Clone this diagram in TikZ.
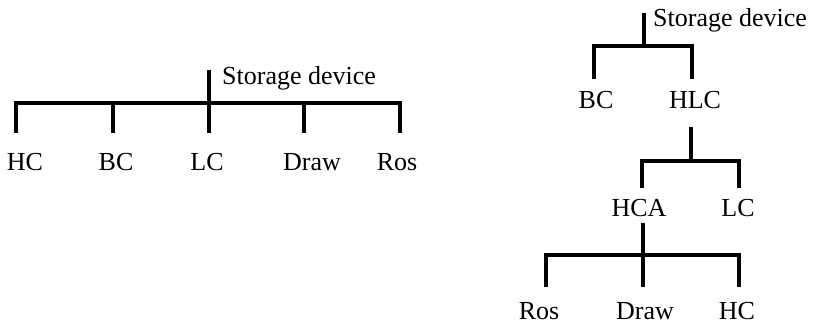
\documentclass[tikz,border=0pt]{standalone}
\usepackage{fontspec}
\setmainfont{Liberation Serif}
\usepackage{tikz}

\begin{document}
\begin{tikzpicture}[
    x=1pt, y=1pt,
    every node/.style={font=\fontsize{26}{30}\selectfont},
    lbl/.style={inner sep=0pt, anchor=center},
    rootlbl/.style={inner sep=0pt, anchor=base west},
    branch/.style={draw=black, line width=3.3pt}
]
\useasboundingbox (0,0) rectangle (815,324);

% flat tree
\node[rootlbl] (sdL) at (222,239) {Storage device};
\node[lbl] (hcL)   at (25,162)  {HC};
\node[lbl] (bcL)   at (116,162) {BC};
\node[lbl] (lcL)   at (207,162) {LC};
\node[lbl] (drawL) at (312,162) {Draw};
\node[lbl] (rosL)  at (397,162) {Ros};
\coordinate (topL) at (209,254);
\coordinate (jL)   at (209,221);
\coordinate (hcLt)   at (16,191);
\coordinate (bcLt)   at (113,191);
\coordinate (lcLt)   at (209,191);
\coordinate (drawLt) at (304,191);
\coordinate (rosLt)  at (400,191);
\draw[branch] (hcLt) |- (jL) -| (rosLt);
\draw[branch] (topL) -- (lcLt);
\draw[branch] (jL) -| (bcLt);
\draw[branch] (jL) -| (drawLt);

% nested tree
\node[rootlbl] (sdR) at (653,297) {Storage device};
\node[lbl] (bcR)   at (596,224) {BC};
\node[lbl] (hlcR)  at (695,224) {HLC};
\node[lbl] (hcaR)  at (639,116) {HCA};
\node[lbl] (lcR)   at (738,116) {LC};
\node[lbl] (rosR)  at (539,13)  {Ros};
\node[lbl] (drawR) at (645,13)  {Draw};
\node[lbl] (hcR)   at (737,13)  {HC};
\coordinate (topR) at (644,311);
\coordinate (j1) at (644,278);
\coordinate (bcRt)  at (594,245);
\coordinate (hlcRt) at (692,245);
\draw[branch] (topR) -- (j1);
\draw[branch] (bcRt) |- (j1) -| (hlcRt);
\coordinate (hlcRb) at (691,197);
\coordinate (j2) at (691,163);
\coordinate (hcaRt) at (642,136);
\coordinate (lcRt)  at (739,136);
\draw[branch] (hlcRb) -- (j2);
\draw[branch] (hcaRt) |- (j2) -| (lcRt);
\coordinate (hcaRb) at (643,101);
\coordinate (j3) at (643,69);
\coordinate (rosRt)  at (546,37);
\coordinate (drawRt) at (643,37);
\coordinate (hcRt)   at (739,37);
\draw[branch] (hcaRb) -- (drawRt);
\draw[branch] (rosRt) |- (j3) -| (hcRt);
\end{tikzpicture}
\end{document}
